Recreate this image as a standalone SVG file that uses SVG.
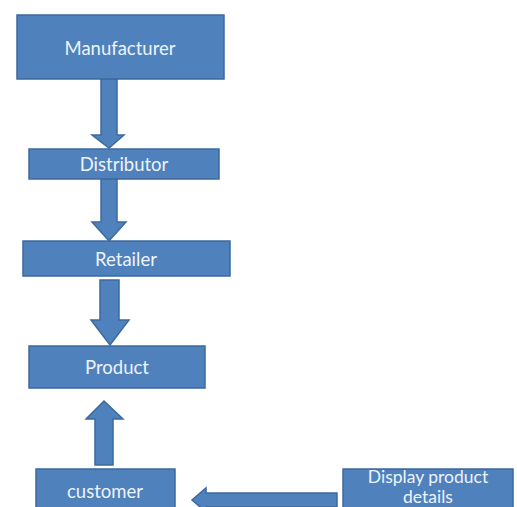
<svg xmlns="http://www.w3.org/2000/svg" width="517" height="507" viewBox="0 0 517 507">
<style>
.box{fill:#4f81bd;stroke:#3d6a9e;stroke-width:1.5}
.arr{fill:#4f81bd;stroke:#3d6a9e;stroke-width:1.5;stroke-linejoin:miter}
.t{font-family:Lato,"Open Sans",sans-serif;font-size:18.5px;fill:#eef3fa;text-anchor:middle;dominant-baseline:central}
.big{font-size:17.5px}
</style>
<rect width="517" height="507" fill="#ffffff"/>
<g id="connectors">
<path class="arr" d="M101,79 H117 V135 H124 L109,148 L92,135 H101 Z"/>
<path class="arr" d="M101,179 H117 V222 H126 L109,241 L92,222 H101 Z"/>
<path class="arr" d="M100,280 H119 V320 H129 L110,345 L91,320 H100 Z"/>
<path class="arr" d="M95,465 V419 H86 L104,401 L123,419 H113 V465 Z"/>
<path class="arr" d="M337,493 H206 V488 L192,500 L206,512 V507 H337 Z"/>
</g>
<g id="manufacturer">
<rect class="box" x="17" y="15" width="207" height="64"/>
<text class="t" x="120" y="48">Manufacturer</text>
</g>
<g id="distributor">
<rect class="box" x="29" y="149" width="190" height="30"/>
<text class="t" x="124" y="164">Distributor</text>
</g>
<g id="retailer">
<rect class="box" x="23" y="241" width="207" height="35"/>
<text class="t" x="126" y="259">Retailer</text>
</g>
<g id="product">
<rect class="box" x="29" y="346" width="176" height="42"/>
<text class="t" x="117" y="367">Product</text>
</g>
<g id="customer">
<rect class="box" x="36" y="469" width="139" height="45"/>
<text class="t" x="105" y="491">customer</text>
</g>
<g id="display">
<rect class="box" x="343" y="469" width="170" height="45"/>
<text class="t big" x="428" y="476">Display product</text>
<text class="t big" x="428" y="496.5">details</text>
</g>
</svg>
